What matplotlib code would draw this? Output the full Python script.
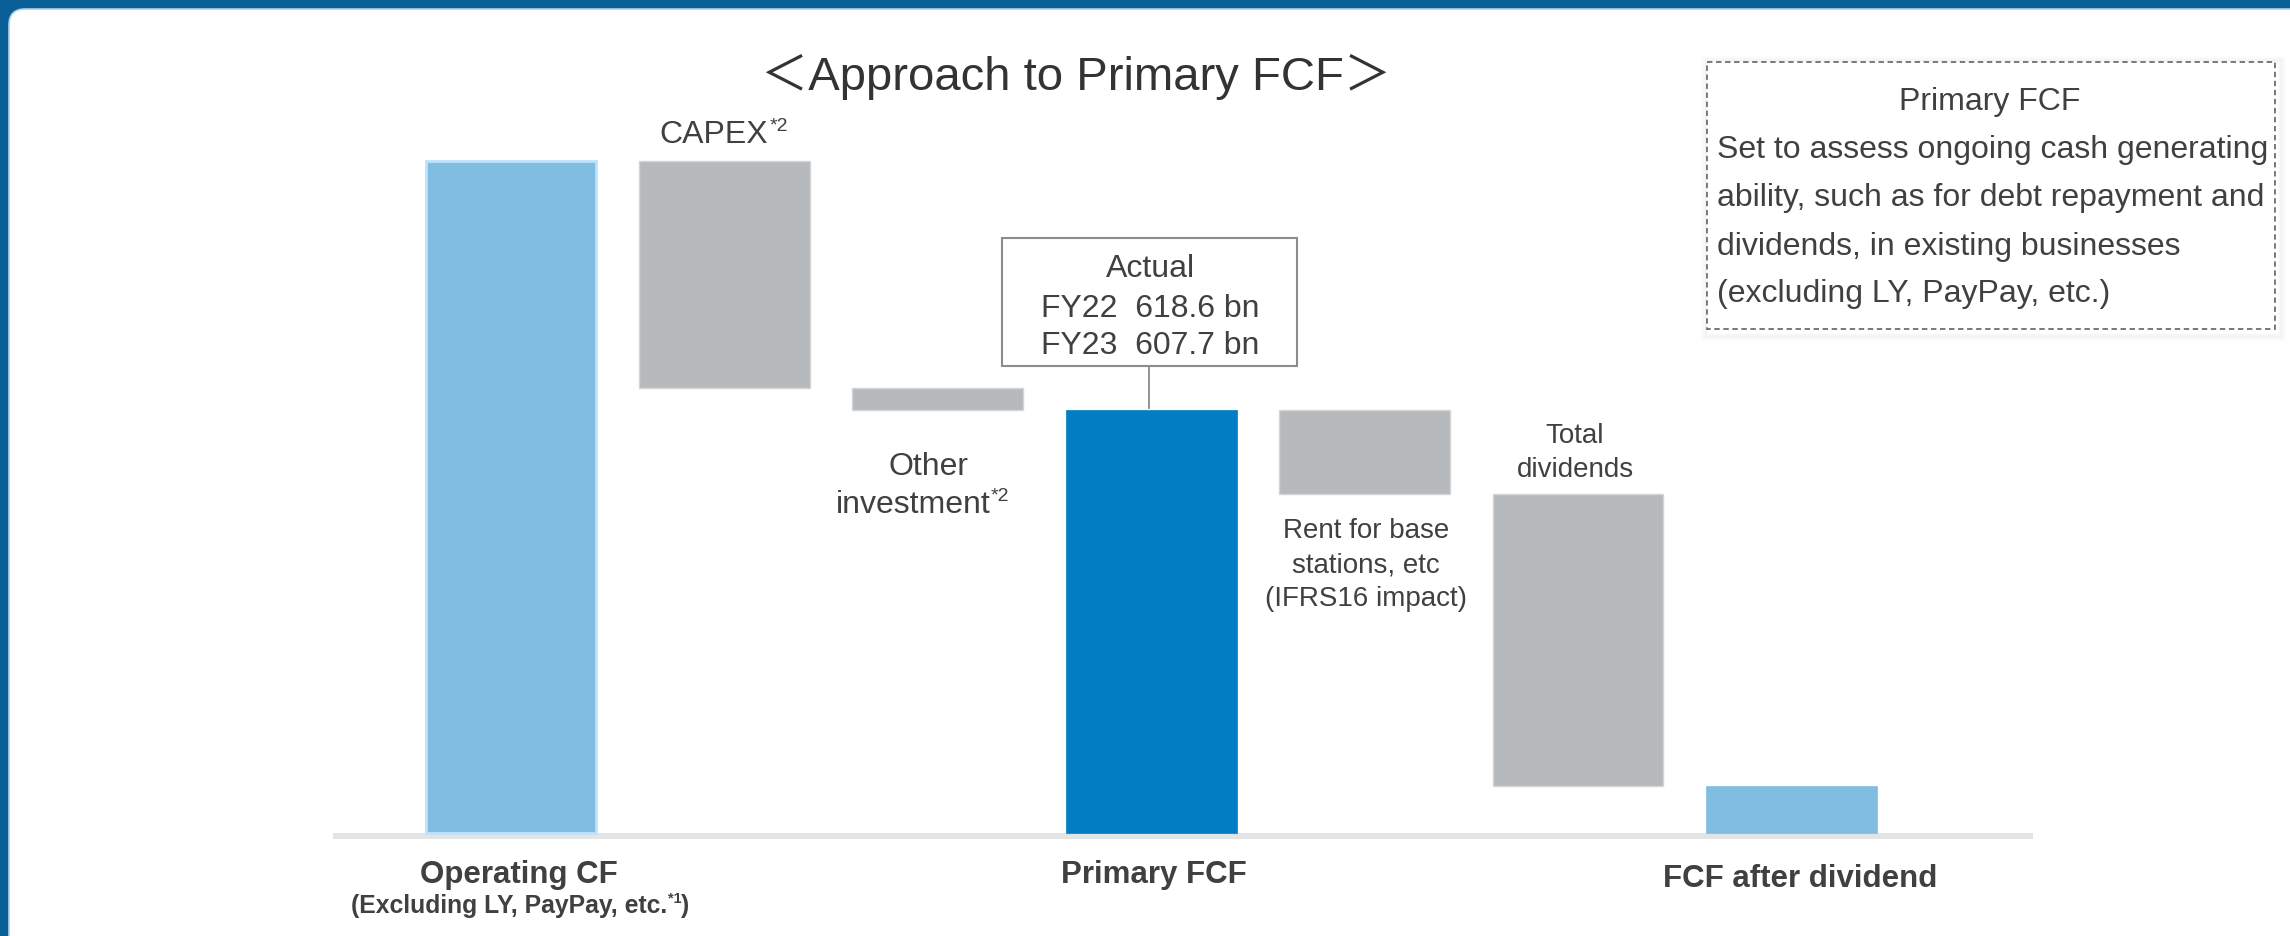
import matplotlib
matplotlib.use("Agg")
import matplotlib.pyplot as plt
from matplotlib.patches import FancyBboxPatch, Rectangle

# ---------------- data ----------------
categories = ["Operating CF", "CAPEX", "Other investment", "Primary FCF",
              "Rent for base stations", "Total dividends", "FCF after dividend"]
kinds = ["total", "delta", "delta", "subtotal", "delta", "delta", "subtotal"]
values = [965, -325, -32, 0, -121, -420, 0]   # bn yen (illustrative scale)
bar_colors = ["#80BDE1", "#B7BABD", "#B7BABD", "#007DC3",
              "#B7BABD", "#B7BABD", "#80BDE1"]
actual_lines = ["Actual", "FY22  618.6 bn", "FY23  607.7 bn"]
note_title = "Primary FCF"
note_lines = ["Set to assess ongoing cash generating",
              "ability, such as for debt repayment and",
              "dividends, in existing businesses",
              "(excluding LY, PayPay, etc.)"]

# waterfall geometry from data
bottoms, heights = [], []
running = 0
for k, v in zip(kinds, values):
    if k == "total":
        bottoms.append(0); heights.append(v); running = v
    elif k == "subtotal":
        bottoms.append(0); heights.append(running)
    else:
        if v < 0:
            bottoms.append(running + v); heights.append(-v)
        else:
            bottoms.append(running); heights.append(v)
        running += v

FONT = ["Liberation Sans", "Noto Sans CJK JP", "DejaVu Sans"]
plt.rcParams["font.family"] = FONT
TXT = "#404040"

W, H = 2290, 936
fig = plt.figure(figsize=(W / 100, H / 100), dpi=100)
fig.patch.set_facecolor("#0A5F96")

# background (pixel coordinates)
bg = fig.add_axes([0, 0, 1, 1])
bg.set_xlim(0, W); bg.set_ylim(H, 0); bg.axis("off")
bg.add_patch(FancyBboxPatch((9, 9), W + 40, H + 40,
                            boxstyle="round,pad=0,rounding_size=16",
                            facecolor="white", edgecolor="#A9D3EF", lw=1.2))

# main axes for bars
s = 607.7 / 423.0          # value per pixel
x0_px, x1_px = 333, 2033
c0, step = 511.0, 213.42
y_top_px, y_bot_px, y0_px = 100, 850, 833
ax = fig.add_axes([x0_px / W, 1 - y_bot_px / H, (x1_px - x0_px) / W,
                   (y_bot_px - y_top_px) / H])
ax.set_facecolor("none")
ax.set_xlim((x0_px - c0) / step, (x1_px - c0) / step)
ax.set_ylim(-(y_bot_px - y0_px) * s, (y0_px - y_top_px) * s)
ax.axis("off")

idx = list(range(len(categories)))
edges = ["#BFE4FA", "#D3D5D7", "#D3D5D7", "#007DC3", "#D3D5D7", "#D3D5D7", "#80BDE1"]
lws = [2.0, 1.0, 1.0, 0.5, 1.0, 1.0, 0.5]
ax.bar(idx, heights, bottom=bottoms, width=0.80, color=bar_colors,
       edgecolor=edges, linewidth=lws, zorder=3)
ax.axhspan(-6 * s, 0, xmin=0, xmax=1, color="#E3E4E6", lw=0, zorder=2)

# ---------------- texts (pixel coords on bg) ----------------
bg.text(1076, 90, "＜Approach to Primary FCF＞", fontsize=34, color="#333333",
        ha="center", va="baseline", family=FONT)

# CAPEX*2
bg.text(768, 143, "CAPEX", fontsize=23, color=TXT, ha="right", va="baseline")
bg.text(770, 131, "*2", fontsize=14, color=TXT, ha="left", va="baseline")

# Other investment*2
bg.text(929, 475, "Other", fontsize=23, color=TXT, ha="center", va="baseline")
bg.text(991, 513, "investment", fontsize=23, color=TXT, ha="right", va="baseline")
bg.text(991, 501, "*2", fontsize=14, color=TXT, ha="left", va="baseline")

# Actual box
bg.add_patch(Rectangle((1002, 238), 295, 128, facecolor="white",
                       edgecolor="#8C8C8C", lw=1.5, zorder=4))
for yb, t in zip([277, 317, 354], actual_lines):
    bg.text(1150, yb, t, fontsize=23, color=TXT, ha="center", va="baseline", zorder=5)
bg.plot([1149, 1149], [366, 408], color="#8C8C8C", lw=1.3)

# Rent label
for yb, t in zip([538, 572, 606], ["Rent for base", "stations, etc", "(IFRS16 impact)"]):
    bg.text(1366, yb, t, fontsize=20, color=TXT, ha="center", va="baseline")

# Total dividends label
for yb, t in zip([443, 477], ["Total", "dividends"]):
    bg.text(1575, yb, t, fontsize=20, color=TXT, ha="center", va="baseline")

# bottom category labels
bg.text(519, 883, "Operating CF", fontsize=22.5, fontweight="bold", color=TXT,
        ha="center", va="baseline")
bg.text(667, 913, "(Excluding LY, PayPay, etc.", fontsize=17.8, fontweight="bold",
        color=TXT, ha="right", va="baseline")
bg.text(668, 903, "*1", fontsize=10.5, fontweight="bold", color=TXT,
        ha="left", va="baseline")
bg.text(680, 913, ")", fontsize=17.8, fontweight="bold", color=TXT,
        ha="left", va="baseline")
bg.text(1154, 883, "Primary FCF", fontsize=22.5, fontweight="bold", color=TXT,
        ha="center", va="baseline")
bg.text(1800, 887, "FCF after dividend", fontsize=22.5, fontweight="bold", color=TXT,
        ha="center", va="baseline")

# note box with faint shadow
for i, a in enumerate([0.030, 0.020, 0.012]):
    bg.add_patch(Rectangle((1707 - 1 - 2 * i, 62 - 1 - 2 * i), 568 + 6 + 4 * i,
                           267 + 7 + 4 * i, facecolor="none",
                           edgecolor="#000000", alpha=a, lw=2.5))
bg.add_patch(Rectangle((1707, 62), 568, 267, facecolor="white",
                       edgecolor="#6E6E6E", lw=1.3, linestyle=(0, (3, 2)), zorder=4))
bg.text(1990, 110, note_title, fontsize=23, color=TXT, ha="center",
        va="baseline", zorder=5)
for yb, t in zip([158, 206, 255, 302], note_lines):
    bg.text(1717, yb, t, fontsize=23, color=TXT, ha="left", va="baseline", zorder=5)

fig.savefig("out.png", dpi=100, facecolor=fig.get_facecolor())
